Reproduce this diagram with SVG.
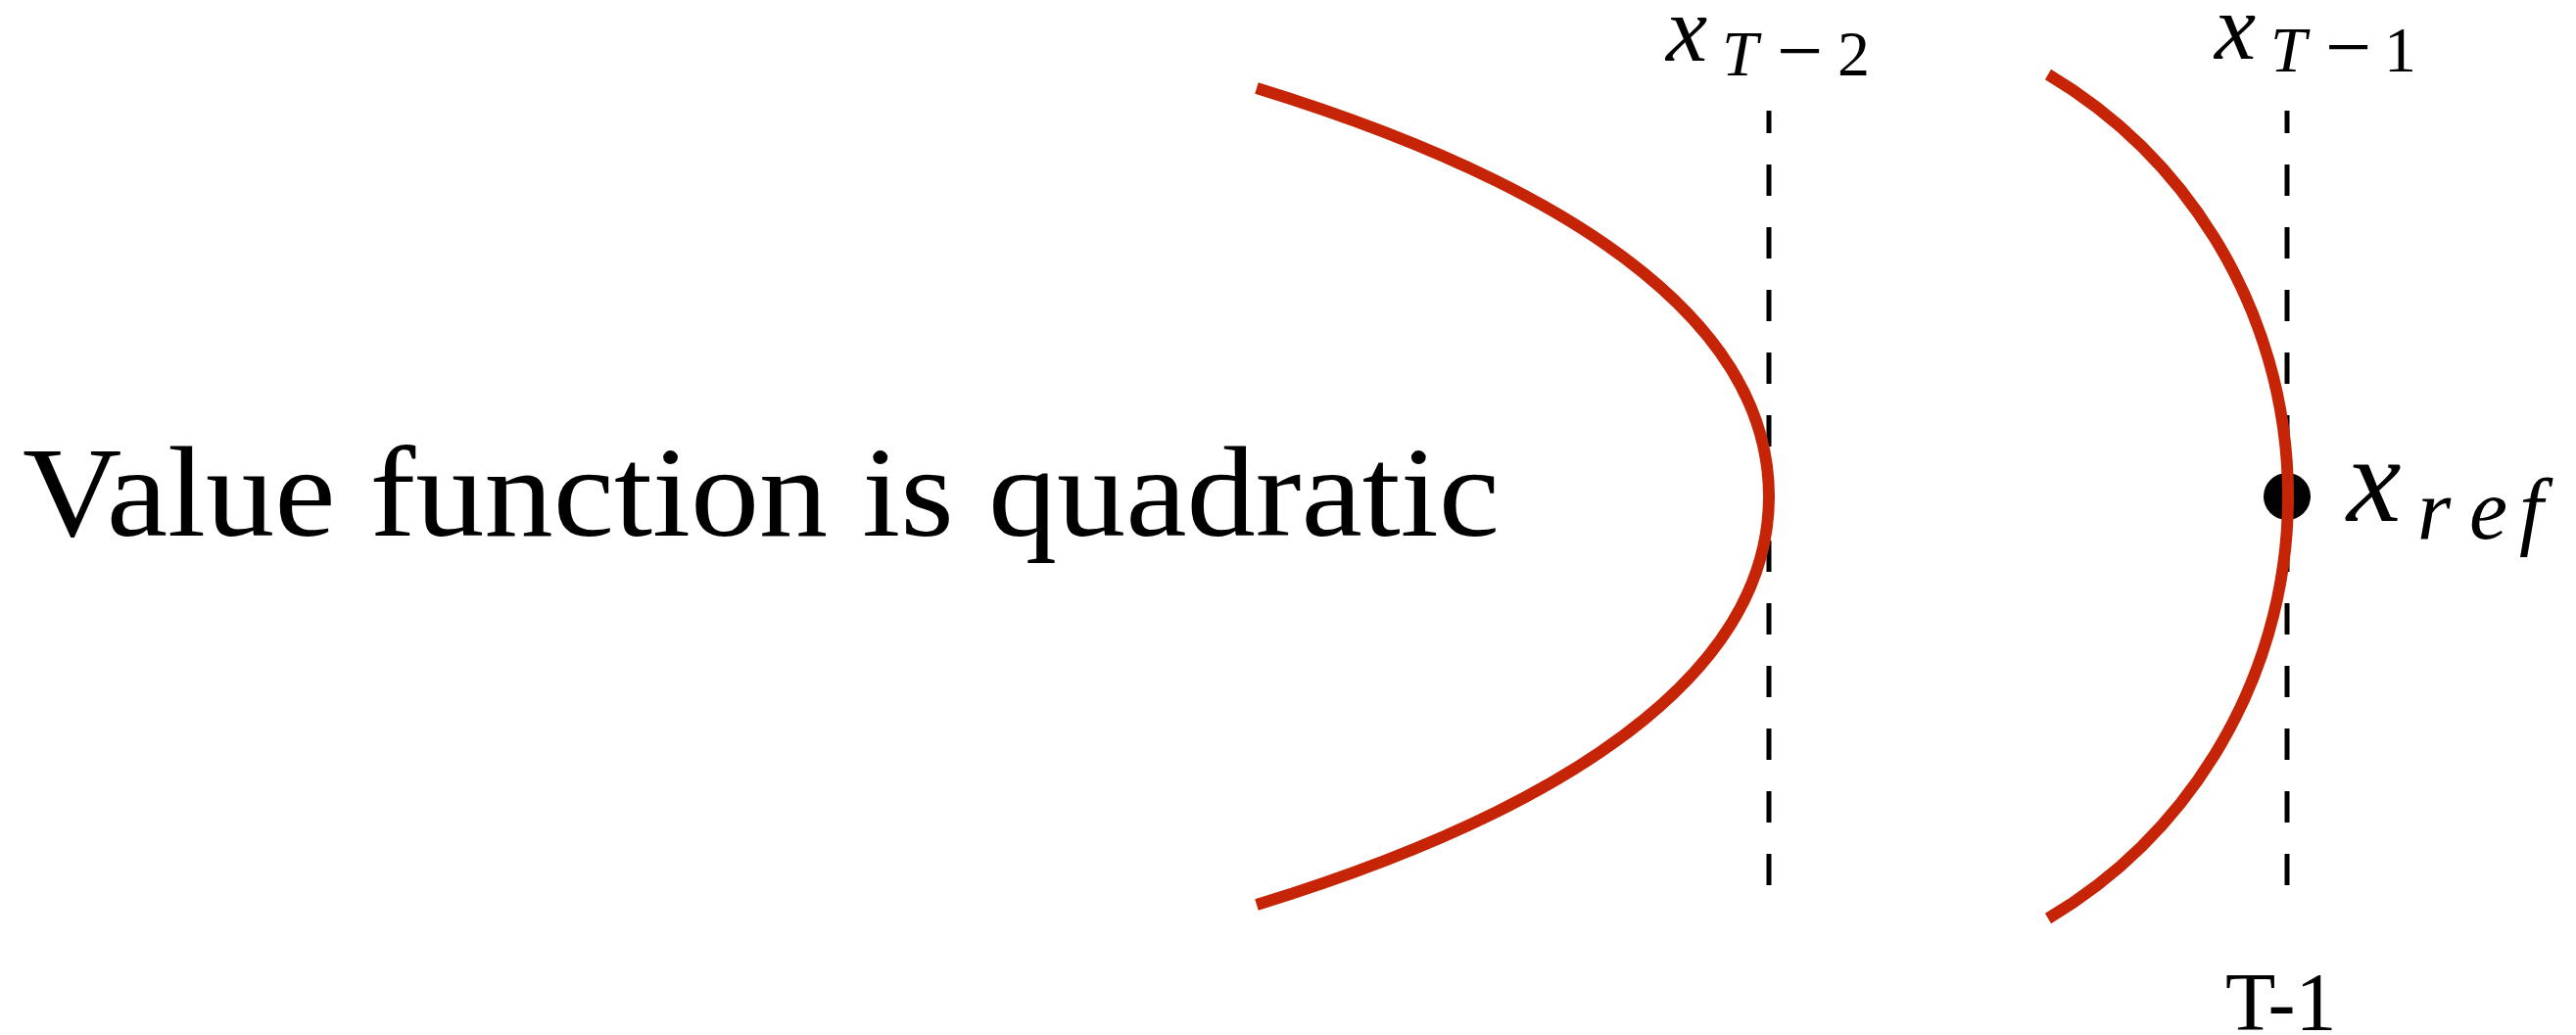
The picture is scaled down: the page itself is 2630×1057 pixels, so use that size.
<svg xmlns="http://www.w3.org/2000/svg" width="2630" height="1057" viewBox="0 0 2630 1057">
  <style>
    .curve { fill: none; stroke: #C62407; stroke-width: 12; }
    .dash { fill: none; stroke: #000; stroke-width: 5; stroke-dasharray: 32 32; stroke-dashoffset: 9; }
    .rm { font-family: "Liberation Serif", serif; fill: #000; }
    .it { font-family: "Liberation Serif", serif; font-style: italic; fill: #000; }
  </style>
  <rect width="2630" height="1057" fill="#fff"/>
  <g id="title">
    <text class="rm" x="23" y="547" font-size="132" textLength="1508" lengthAdjust="spacingAndGlyphs">Value function is quadratic</text>
  </g>
  <g id="guides">
    <line class="dash" x1="1806" y1="113" x2="1806" y2="905"/>
    <line class="dash" x1="2335" y1="113" x2="2335" y2="905"/>
  </g>
  <g id="ref-point">
    <circle cx="2335" cy="507" r="24" fill="#000"/>
  </g>
  <g id="curves">
    <path class="curve" d="M1283,90 C1640,200 1806,345 1806,507 C1806,669 1640,814 1283,924"/>
    <path class="curve" d="M2091,76 A501.6,501.6 0 0 1 2091,938"/>
  </g>
  <g id="label-xT-2">
    <text class="it" x="1701" y="62" font-size="95">x</text>
    <text class="it" x="1758" y="77" font-size="66">T</text>
    <text class="rm" x="1814" y="80" font-size="84">−</text>
    <text class="rm" x="1876" y="77" font-size="66">2</text>
  </g>
  <g id="label-xT-1">
    <text class="it" x="2261" y="60" font-size="95">x</text>
    <text class="it" x="2318" y="73" font-size="66">T</text>
    <text class="rm" x="2374" y="76" font-size="84">−</text>
    <text class="rm" x="2434" y="73" font-size="66">1</text>
  </g>
  <g id="label-xref">
    <text class="it" x="2396" y="532" font-size="125">x</text>
    <text class="it" font-size="88" y="550"><tspan x="2468">r</tspan><tspan x="2521">e</tspan><tspan x="2572">f</tspan></text>
  </g>
  <g id="label-T-1">
    <text class="rm" x="2272" y="1052" font-size="84">T-1</text>
  </g>
</svg>
